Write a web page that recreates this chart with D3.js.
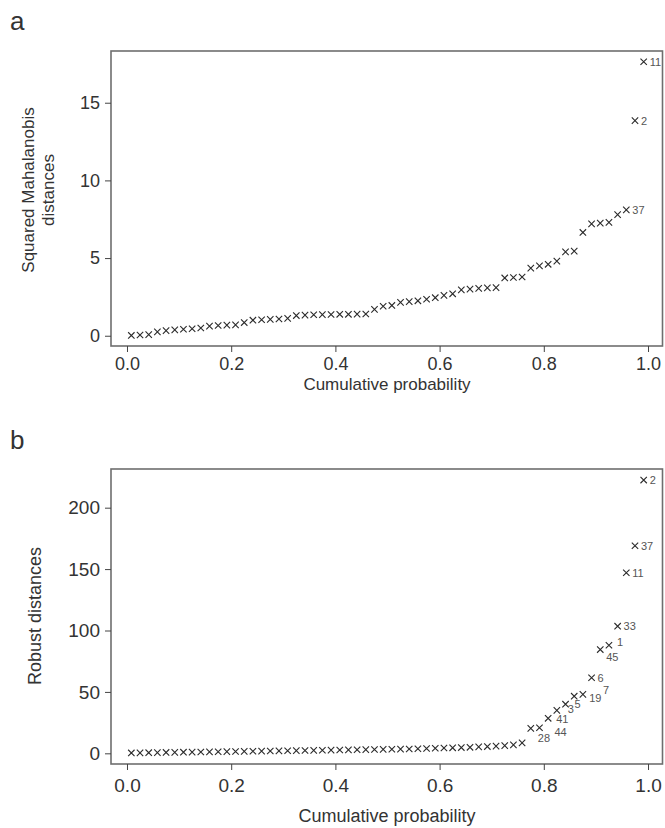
<!DOCTYPE html>
<html>
<head>
<meta charset="utf-8">
<script src="https://cdn.jsdelivr.net/npm/d3@7"></script>
<style>
  body { margin: 0; background: #fff; }
  text { font-family: "Liberation Sans", Arial, sans-serif; fill: #333; }
</style>
</head>
<body>
<div id="chart"></div>
<script>
var svgWidth = 665;
var svgHeight = 828;

// number of observations, plotted at (i - 0.5) / n
var nObs = 60;
var xTicks = [0.0, 0.2, 0.4, 0.6, 0.8, 1.0];

// panel a: squared Mahalanobis distances, sorted
var mahalanobis = [0.02, 0.05, 0.07, 0.25, 0.33, 0.38, 0.42, 0.45, 0.5, 0.62,
  0.66, 0.68, 0.7, 0.85, 1.0, 1.03, 1.05, 1.08, 1.12, 1.3,
  1.33, 1.35, 1.36, 1.37, 1.38, 1.38, 1.39, 1.4, 1.7, 1.9,
  1.95, 2.15, 2.2, 2.25, 2.35, 2.45, 2.6, 2.7, 2.95, 3.0,
  3.05, 3.08, 3.1, 3.72, 3.75, 3.78, 4.35, 4.5, 4.6, 4.8,
  5.4, 5.45, 6.65, 7.2, 7.25, 7.3, 7.8, 8.1, 13.85, 17.64];
var mahalanobisLabels = {58: "37", 59: "2", 60: "11"};
var mahalanobisTicks = [0, 5, 10, 15];

// panel b: robust distances, sorted
var robust = [0.3, 0.4, 0.5, 0.6, 0.7, 0.8, 0.9, 1.0, 1.1, 1.2,
  1.3, 1.4, 1.5, 1.6, 1.7, 1.8, 1.9, 2.0, 2.1, 2.2,
  2.3, 2.4, 2.5, 2.6, 2.7, 2.8, 2.9, 3.0, 3.1, 3.2,
  3.3, 3.4, 3.5, 3.7, 3.9, 4.1, 4.3, 4.5, 4.7, 4.9,
  5.2, 5.5, 5.9, 6.3, 6.9, 8.5, 20.3, 20.8, 28.5, 35,
  40, 46.5, 48, 61.5, 84.5, 88, 103.5, 147, 169, 222.5];
var robustLabels = {47: "28", 48: "44", 49: "41", 50: "3", 51: "5", 52: "19",
  53: "7", 54: "6", 55: "45", 56: "1", 57: "33", 58: "11", 59: "37", 60: "2"};
var robustTicks = [0, 50, 100, 150, 200];

var svg = d3.select("#chart")
  .append("svg")
  .attr("width", svgWidth)
  .attr("height", svgHeight);

// label nudges [dx, dy] for crowded labels in panel b
var nudge = {"28": [1, 10], "44": [9, 4], "41": [2, 1], "3": [5, -1], "5": [3, 0],
  "19": [9, 2], "7": [14, -4], "45": [0, 7], "1": [2, -3]};

function drawPanel(opt) {
  var x = d3.scaleLinear().domain([-0.0307, 1.0278]).range([111, 662.5]);
  var y = d3.scaleLinear().domain(opt.yDomain).range([opt.bottom, opt.top]);

  // panel letter
  svg.append("text")
    .attr("x", 10)
    .attr("y", opt.letterY)
    .attr("font-size", "26px")
    .text(opt.letter);

  // box
  svg.append("rect")
    .attr("x", 111)
    .attr("y", opt.top)
    .attr("width", 662.5 - 111)
    .attr("height", opt.bottom - opt.top)
    .attr("fill", "none")
    .attr("stroke", "#6e6e6e")
    .attr("stroke-width", 1.6);

  // x axis
  var xAxis = svg.append("g")
    .attr("transform", `translate(0, ${opt.bottom})`)
    .call(d3.axisBottom(x).tickValues(xTicks).tickFormat(d3.format(".1f")).tickSize(6).tickPadding(opt.xPad));
  xAxis.select(".domain").remove();
  xAxis.selectAll("line").attr("stroke", "#444");
  xAxis.selectAll("text").attr("font-size", opt.tickFont).attr("fill", "#333");

  // y axis
  var yAxis = svg.append("g")
    .attr("transform", "translate(111, 0)")
    .call(d3.axisLeft(y).tickValues(opt.yTicks).tickSize(6).tickPadding(5));
  yAxis.select(".domain").remove();
  yAxis.selectAll("line").attr("stroke", "#444");
  yAxis.selectAll("text").attr("font-size", opt.tickFont).attr("fill", "#333");

  // x title
  svg.append("text")
    .attr("x", 387)
    .attr("y", opt.xTitleY)
    .attr("text-anchor", "middle")
    .attr("font-size", opt.titleFont)
    .text("Cumulative probability");

  // y title
  var yt = svg.append("text")
    .attr("transform", `translate(${opt.yTitleX}, ${opt.yTitleMid}) rotate(-90)`)
    .attr("text-anchor", "middle")
    .attr("font-size", opt.titleFont);
  opt.yTitle.forEach(function(line, i) {
    yt.append("tspan")
      .attr("x", 0)
      .attr("dy", i === 0 ? 0 : "1.15em")
      .text(line);
  });

  // points as crosses
  var s = 3.2;
  svg.append("g").selectAll("path")
    .data(opt.values)
    .enter()
    .append("path")
    .attr("d", function(d, i) {
      var cx = x((i + 0.5) / nObs), cy = y(d);
      return `M${cx - s},${cy - s}L${cx + s},${cy + s}M${cx - s},${cy + s}L${cx + s},${cy - s}`;
    })
    .attr("stroke", "#2a2a2a")
    .attr("stroke-width", 1.1)
    .attr("fill", "none");

  // labels for extreme observations
  opt.values.forEach(function(d, i) {
    var lab = opt.labels[i + 1];
    if (!lab) return;
    var n = opt.nudge[lab] || [0, 0];
    svg.append("text")
      .attr("x", x((i + 0.5) / nObs) + 6 + n[0])
      .attr("y", y(d) + 4 + n[1])
      .attr("font-size", "11px")
      .style("fill", "#555")
      .text(lab);
  });
}

drawPanel({
  letter: "a", letterY: 30,
  top: 51, bottom: 346,
  yDomain: [-0.66, 18.33],
  yTicks: mahalanobisTicks,
  values: mahalanobis,
  labels: mahalanobisLabels,
  nudge: {},
  tickFont: "18px", titleFont: "17px",
  xPad: 5, xTitleY: 390,
  yTitle: ["Squared Mahalanobis", "distances"], yTitleX: 34, yTitleMid: 190
});

drawPanel({
  letter: "b", letterY: 449,
  top: 469, bottom: 764,
  yDomain: [-8.7, 231.5],
  yTicks: robustTicks,
  values: robust,
  labels: robustLabels,
  nudge: nudge,
  tickFont: "19px", titleFont: "18px",
  xPad: 9, xTitleY: 822,
  yTitle: ["Robust distances"], yTitleX: 41, yTitleMid: 616
});
</script>
</body>
</html>
